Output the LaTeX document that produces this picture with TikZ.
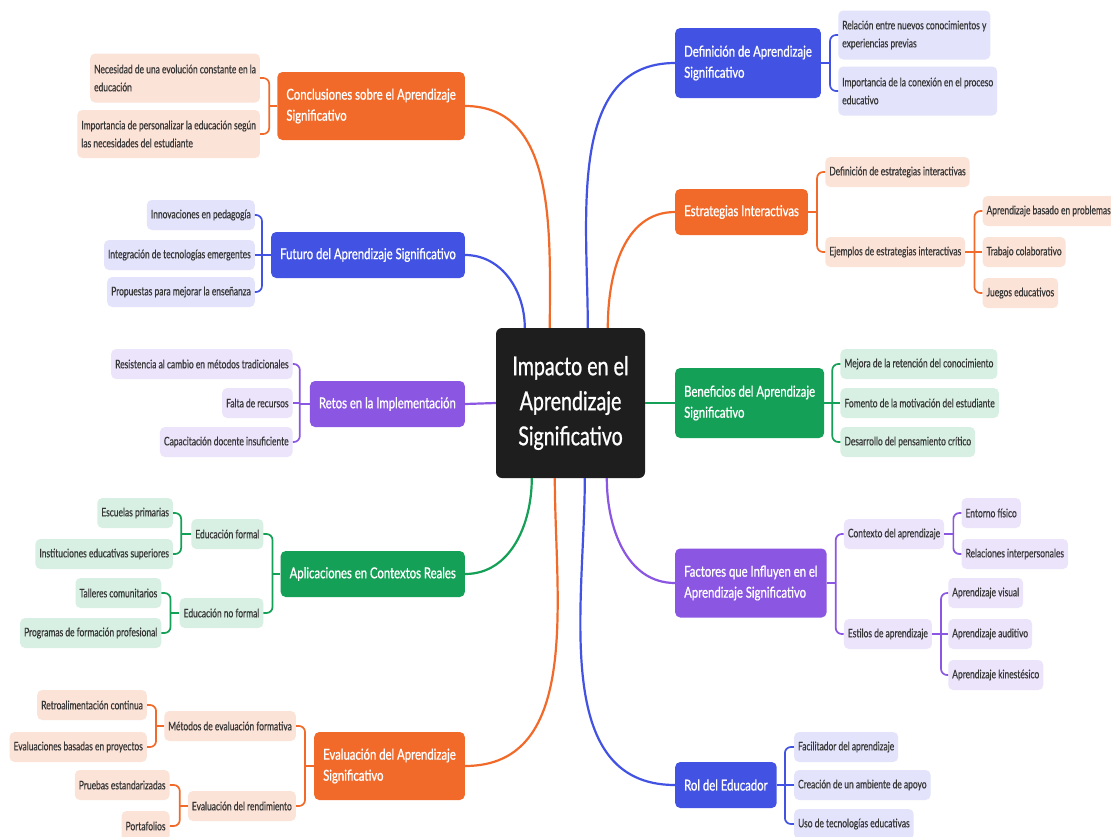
\documentclass[tikz,border=0pt]{standalone}
\usepackage{fontspec}
\setmainfont{Lato}[FakeStretch=0.716, FakeBold=0.5]
\newfontfamily\topicfont{Lato}[FakeStretch=0.755, FakeBold=0.9]
\usetikzlibrary{calc}

\definecolor{rootc}{HTML}{1E1E1E}
\definecolor{blueM}{HTML}{4253E3}
\definecolor{blueL}{HTML}{E3E4FB}
\definecolor{orM}{HTML}{F26A2A}
\definecolor{orL}{HTML}{FCE3D8}
\definecolor{grM}{HTML}{14A056}
\definecolor{grL}{HTML}{D8F0E3}
\definecolor{puM}{HTML}{8A56E2}
\definecolor{puL}{HTML}{ECE4FB}
\definecolor{leaftxt}{HTML}{363636}

\tikzset{
  rootbox/.style={fill=rootc, rounded corners=6pt, text=white, align=center,
    font=\topicfont\fontsize{26}{35}\selectfont, minimum width=149pt, minimum height=150pt, inner sep=0pt},
  topic/.style={rounded corners=5pt, text=white, align=left,
    font=\topicfont\fontsize{15}{21}\selectfont, inner xsep=9pt, inner ysep=3pt, minimum height=46pt},
  leaf/.style={rounded corners=5pt, text=leaftxt, align=left,
    font=\fontsize{11.8}{18}\selectfont, inner xsep=4pt, inner ysep=3pt, minimum height=30pt},
  topicB/.style={topic, fill=blueM}, topicO/.style={topic, fill=orM},
  topicG/.style={topic, fill=grM},   topicP/.style={topic, fill=puM},
  leafB/.style={leaf, fill=blueL},   leafO/.style={leaf, fill=orL},
  leafG/.style={leaf, fill=grL},     leafP/.style={leaf, fill=puL},
  linkB/.style={draw=blueM, line width=2.2pt}, linkO/.style={draw=orM, line width=2.2pt},
  linkG/.style={draw=grM, line width=2.2pt},   linkP/.style={draw=puM, line width=2.2pt},
  fanB/.style={draw=blueM, line width=1.7pt, rounded corners=6pt},
  fanO/.style={draw=orM, line width=1.7pt, rounded corners=6pt},
  fanG/.style={draw=grM, line width=1.7pt, rounded corners=6pt},
  fanP/.style={draw=puM, line width=1.7pt, rounded corners=6pt},
}

\begin{document}
\begin{tikzpicture}[x=1pt, y=-1pt]
\clip (0,0) rectangle (1111,836);
\fill[white] (0,0) rectangle (1111,836);

% ---------- central topic ----------
\node[rootbox] (root) at (570.5,403) {Impacto en el\\Aprendizaje\\Significativo};

% ---------- right-hand topics ----------
\node[topicB, anchor=west, minimum height=70pt] (def) at (675,63) {Definición de Aprendizaje\\Significativo};
\node[topicO, anchor=west] (est) at (675,212) {Estrategias Interactivas};
\node[topicG, anchor=west, minimum height=70pt] (ben) at (675,403) {Beneficios del Aprendizaje\\Significativo};
\node[topicP, anchor=west, minimum height=69pt] (fac) at (675,583) {Factores que Influyen en el\\Aprendizaje Significativo};
\node[topicB, anchor=west] (rol) at (675,785) {Rol del Educador};

% ---------- left-hand topics ----------
\node[topicO, anchor=east, minimum height=68pt] (con) at (465,106) {Conclusiones sobre el Aprendizaje\\Significativo};
\node[topicB, anchor=east] (fut) at (465,255) {Futuro del Aprendizaje Significativo};
\node[topicP, anchor=east] (ret) at (465,404) {Retos en la Implementación};
\node[topicG, anchor=east] (apl) at (465,574) {Aplicaciones en Contextos Reales};
\node[topicO, anchor=east, minimum height=68pt] (eva) at (465,766) {Evaluación del Aprendizaje\\Significativo};

% ---------- links from the central topic ----------
\coordinate (t1) at ($(root.north west)+(29,0)$);
\coordinate (t2) at ($(root.north west)+(54,0)$);
\coordinate (t3) at ($(root.north west)+(92,0)$);
\coordinate (t4) at ($(root.north west)+(112,0)$);
\coordinate (b1) at ($(root.south west)+(36,0)$);
\coordinate (b2) at ($(root.south west)+(59,0)$);
\coordinate (b3) at ($(root.south west)+(89,0)$);
\coordinate (b4) at ($(root.south west)+(111,0)$);
\draw[linkB] (t1) to[out=90,in=0] (fut.east);
\draw[linkO] (t2) to[out=90,in=0] (con.east);
\draw[linkB] (t3) to[out=90,in=180] (def.west);
\draw[linkO] (t4) to[out=90,in=180] (est.west);
\draw[linkP] (root.west) -- (ret.east);
\draw[linkG] (root.east) -- (ben.west);
\draw[linkG] (b1) to[out=-90,in=0] (apl.east);
\draw[linkO] (b2) to[out=-90,in=0] (eva.east);
\draw[linkB] (b3) to[out=-90,in=180] (rol.west);
\draw[linkP] (b4) to[out=-90,in=180] (fac.west);

% ---------- Definición ----------
\coordinate (jdef) at ($(def.east)+(9,0)$);
\node[leafB, anchor=west, minimum height=49pt] (def1) at ($(jdef |- 0,35)+(8,0)$) {Relación entre nuevos conocimientos y\\experiencias previas};
\node[leafB, anchor=west, minimum height=49pt] (def2) at ($(jdef |- 0,91)+(8,0)$) {Importancia de la conexión en el proceso\\educativo};
\draw[fanB] (def.east) -- (jdef);
\draw[fanB] (def1.west) -| (jdef) |- (def2.west);

% ---------- Estrategias ----------
\coordinate (jest) at ($(est.east)+(9,0)$);
\node[leafO, anchor=west] (est1) at ($(jest |- 0,172)+(8,0)$) {Definición de estrategias interactivas};
\node[leafO, anchor=west] (est2) at ($(jest |- 0,252)+(8,0)$) {Ejemplos de estrategias interactivas};
\draw[fanO] (est.east) -- (jest);
\draw[fanO] (est1.west) -| (jest) |- (est2.west);
\coordinate (jex) at ($(est2.east)+(9,0)$);
\node[leafO, anchor=west] (ex1) at ($(jex |- 0,211)+(8,0)$) {Aprendizaje basado en problemas};
\node[leafO, anchor=west] (ex2) at ($(jex |- 0,252)+(8,0)$) {Trabajo colaborativo};
\node[leafO, anchor=west] (ex3) at ($(jex |- 0,293)+(8,0)$) {Juegos educativos};
\draw[fanO] (est2.east) -- (jex);
\draw[fanO] (ex1.west) -| (jex) |- (ex3.west);
\draw[fanO] (jex |- ex2.west) -- (ex2.west);

% ---------- Beneficios ----------
\coordinate (jben) at ($(ben.east)+(8,0)$);
\node[leafG, anchor=west] (ben1) at ($(jben |- 0,364)+(8,0)$) {Mejora de la retención del conocimiento};
\node[leafG, anchor=west] (ben2) at ($(jben |- 0,403)+(8,0)$) {Fomento de la motivación del estudiante};
\node[leafG, anchor=west] (ben3) at ($(jben |- 0,442)+(8,0)$) {Desarrollo del pensamiento crítico};
\draw[fanG] (ben.east) -- (jben);
\draw[fanG] (ben1.west) -| (jben) |- (ben3.west);
\draw[fanG] (jben |- ben2.west) -- (ben2.west);

% ---------- Factores ----------
\coordinate (jfac) at ($(fac.east)+(9,0)$);
\node[leafP, anchor=west] (fac1) at ($(jfac |- 0,534)+(8,0)$) {Contexto del aprendizaje};
\node[leafP, anchor=west] (fac2) at ($(jfac |- 0,634)+(8,0)$) {Estilos de aprendizaje};
\draw[fanP] (fac.east) -- (jfac);
\draw[fanP] (fac1.west) -| (jfac) |- (fac2.west);
\coordinate (jctx) at ($(fac1.east)+(9,0)$);
\node[leafP, anchor=west] (ctx1) at ($(jctx |- 0,513)+(8,0)$) {Entorno físico};
\node[leafP, anchor=west] (ctx2) at ($(jctx |- 0,554)+(8,0)$) {Relaciones interpersonales};
\draw[fanP] (fac1.east) -- (jctx);
\draw[fanP] (ctx1.west) -| (jctx) |- (ctx2.west);
\coordinate (jsty) at ($(fac2.east)+(9,0)$);
\node[leafP, anchor=west] (sty1) at ($(jsty |- 0,593)+(7,0)$) {Aprendizaje visual};
\node[leafP, anchor=west] (sty2) at ($(jsty |- 0,634)+(7,0)$) {Aprendizaje auditivo};
\node[leafP, anchor=west] (sty3) at ($(jsty |- 0,675)+(7,0)$) {Aprendizaje kinestésico};
\draw[fanP] (fac2.east) -- (jsty);
\draw[fanP] (sty1.west) -| (jsty) |- (sty3.west);
\draw[fanP] (jsty |- sty2.west) -- (sty2.west);

% ---------- Rol del Educador ----------
\coordinate (jrol) at ($(rol.east)+(8,0)$);
\node[leafB, anchor=west] (rol1) at ($(jrol |- 0,747)+(9,0)$) {Facilitador del aprendizaje};
\node[leafB, anchor=west] (rol2) at ($(jrol |- 0,785)+(9,0)$) {Creación de un ambiente de apoyo};
\node[leafB, anchor=west] (rol3) at ($(jrol |- 0,824)+(9,0)$) {Uso de tecnologías educativas};
\draw[fanB] (rol.east) -- (jrol);
\draw[fanB] (rol1.west) -| (jrol) |- (rol3.west);
\draw[fanB] (jrol |- rol2.west) -- (rol2.west);

% ---------- Conclusiones ----------
\coordinate (jcon) at ($(con.west)+(-8,0)$);
\node[leafO, anchor=east, minimum height=49pt] (con1) at ($(jcon |- 0,78)+(-9,0)$) {Necesidad de una evolución constante en la\\educación};
\node[leafO, anchor=east, minimum height=48pt] (con2) at ($(jcon |- 0,134)+(-9,0)$) {Importancia de personalizar la educación según\\las necesidades del estudiante};
\draw[fanO] (con.west) -- (jcon);
\draw[fanO] (con1.east) -| (jcon) |- (con2.east);

% ---------- Futuro ----------
\coordinate (jfut) at ($(fut.west)+(-9,0)$);
\node[leafB, anchor=east] (fut1) at ($(jfut |- 0,215)+(-7,0)$) {Innovaciones en pedagogía};
\node[leafB, anchor=east] (fut2) at ($(jfut |- 0,255)+(-7,0)$) {Integración de tecnologías emergentes};
\node[leafB, anchor=east] (fut3) at ($(jfut |- 0,292)+(-7,0)$) {Propuestas para mejorar la enseñanza};
\draw[fanB] (fut.west) -- (jfut);
\draw[fanB] (fut1.east) -| (jfut) |- (fut3.east);
\draw[fanB] (jfut |- fut2.east) -- (fut2.east);

% ---------- Retos ----------
\coordinate (jret) at ($(ret.west)+(-10,0)$);
\node[leafP, anchor=east] (ret1) at ($(jret |- 0,364)+(-7,0)$) {Resistencia al cambio en métodos tradicionales};
\node[leafP, anchor=east] (ret2) at ($(jret |- 0,403)+(-7,0)$) {Falta de recursos};
\node[leafP, anchor=east] (ret3) at ($(jret |- 0,442)+(-7,0)$) {Capacitación docente insuficiente};
\draw[fanP] (ret.west) -- (jret);
\draw[fanP] (ret1.east) -| (jret) |- (ret3.east);
\draw[fanP] (jret |- ret2.east) -- (ret2.east);

% ---------- Aplicaciones ----------
\coordinate (japl) at ($(apl.west)+(-8,0)$);
\node[leafG, anchor=east] (apl1) at ($(japl |- 0,534)+(-9,0)$) {Educación formal};
\node[leafG, anchor=east] (apl2) at ($(japl |- 0,613)+(-9,0)$) {Educación no formal};
\draw[fanG] (apl.west) -- (japl);
\draw[fanG] (apl1.east) -| (japl) |- (apl2.east);
\coordinate (jfor) at ($(apl1.west)+(-10,0)$);
\node[leafG, anchor=east] (for1) at ($(jfor |- 0,513)+(-8,0)$) {Escuelas primarias};
\node[leafG, anchor=east] (for2) at ($(jfor |- 0,554)+(-8,0)$) {Instituciones educativas superiores};
\draw[fanG] (apl1.west) -- (jfor);
\draw[fanG] (for1.east) -| (jfor) |- (for2.east);
\coordinate (jnof) at ($(apl2.west)+(-9,0)$);
\node[leafG, anchor=east] (nof1) at ($(jnof |- 0,593)+(-9,0)$) {Talleres comunitarios};
\node[leafG, anchor=east] (nof2) at ($(jnof |- 0,633)+(-9,0)$) {Programas de formación profesional};
\draw[fanG] (apl2.west) -- (jnof);
\draw[fanG] (nof1.east) -| (jnof) |- (nof2.east);

% ---------- Evaluación ----------
\coordinate (jeva) at ($(eva.west)+(-9,0)$);
\node[leafO, anchor=east] (eva1) at ($(jeva |- 0,726)+(-9,0)$) {Métodos de evaluación formativa};
\node[leafO, anchor=east] (eva2) at ($(jeva |- 0,806)+(-9,0)$) {Evaluación del rendimiento};
\draw[fanO] (eva.west) -- (jeva);
\draw[fanO] (eva1.east) -| (jeva) |- (eva2.east);
\coordinate (jfrm) at ($(eva1.west)+(-8,0)$);
\node[leafO, anchor=east] (frm1) at ($(jfrm |- 0,705)+(-9,0)$) {Retroalimentación continua};
\node[leafO, anchor=east] (frm2) at ($(jfrm |- 0,747)+(-9,0)$) {Evaluaciones basadas en proyectos};
\draw[fanO] (eva1.west) -- (jfrm);
\draw[fanO] (frm1.east) -| (jfrm) |- (frm2.east);
\coordinate (jren) at ($(eva2.west)+(-8,0)$);
\node[leafO, anchor=east] (ren1) at ($(jren |- 0,785)+(-10,0)$) {Pruebas estandarizadas};
\node[leafO, anchor=east] (ren2) at ($(jren |- 0,826)+(-10,0)$) {Portafolios};
\draw[fanO] (eva2.west) -- (jren);
\draw[fanO] (ren1.east) -| (jren) |- (ren2.east);
\end{tikzpicture}
\end{document}
